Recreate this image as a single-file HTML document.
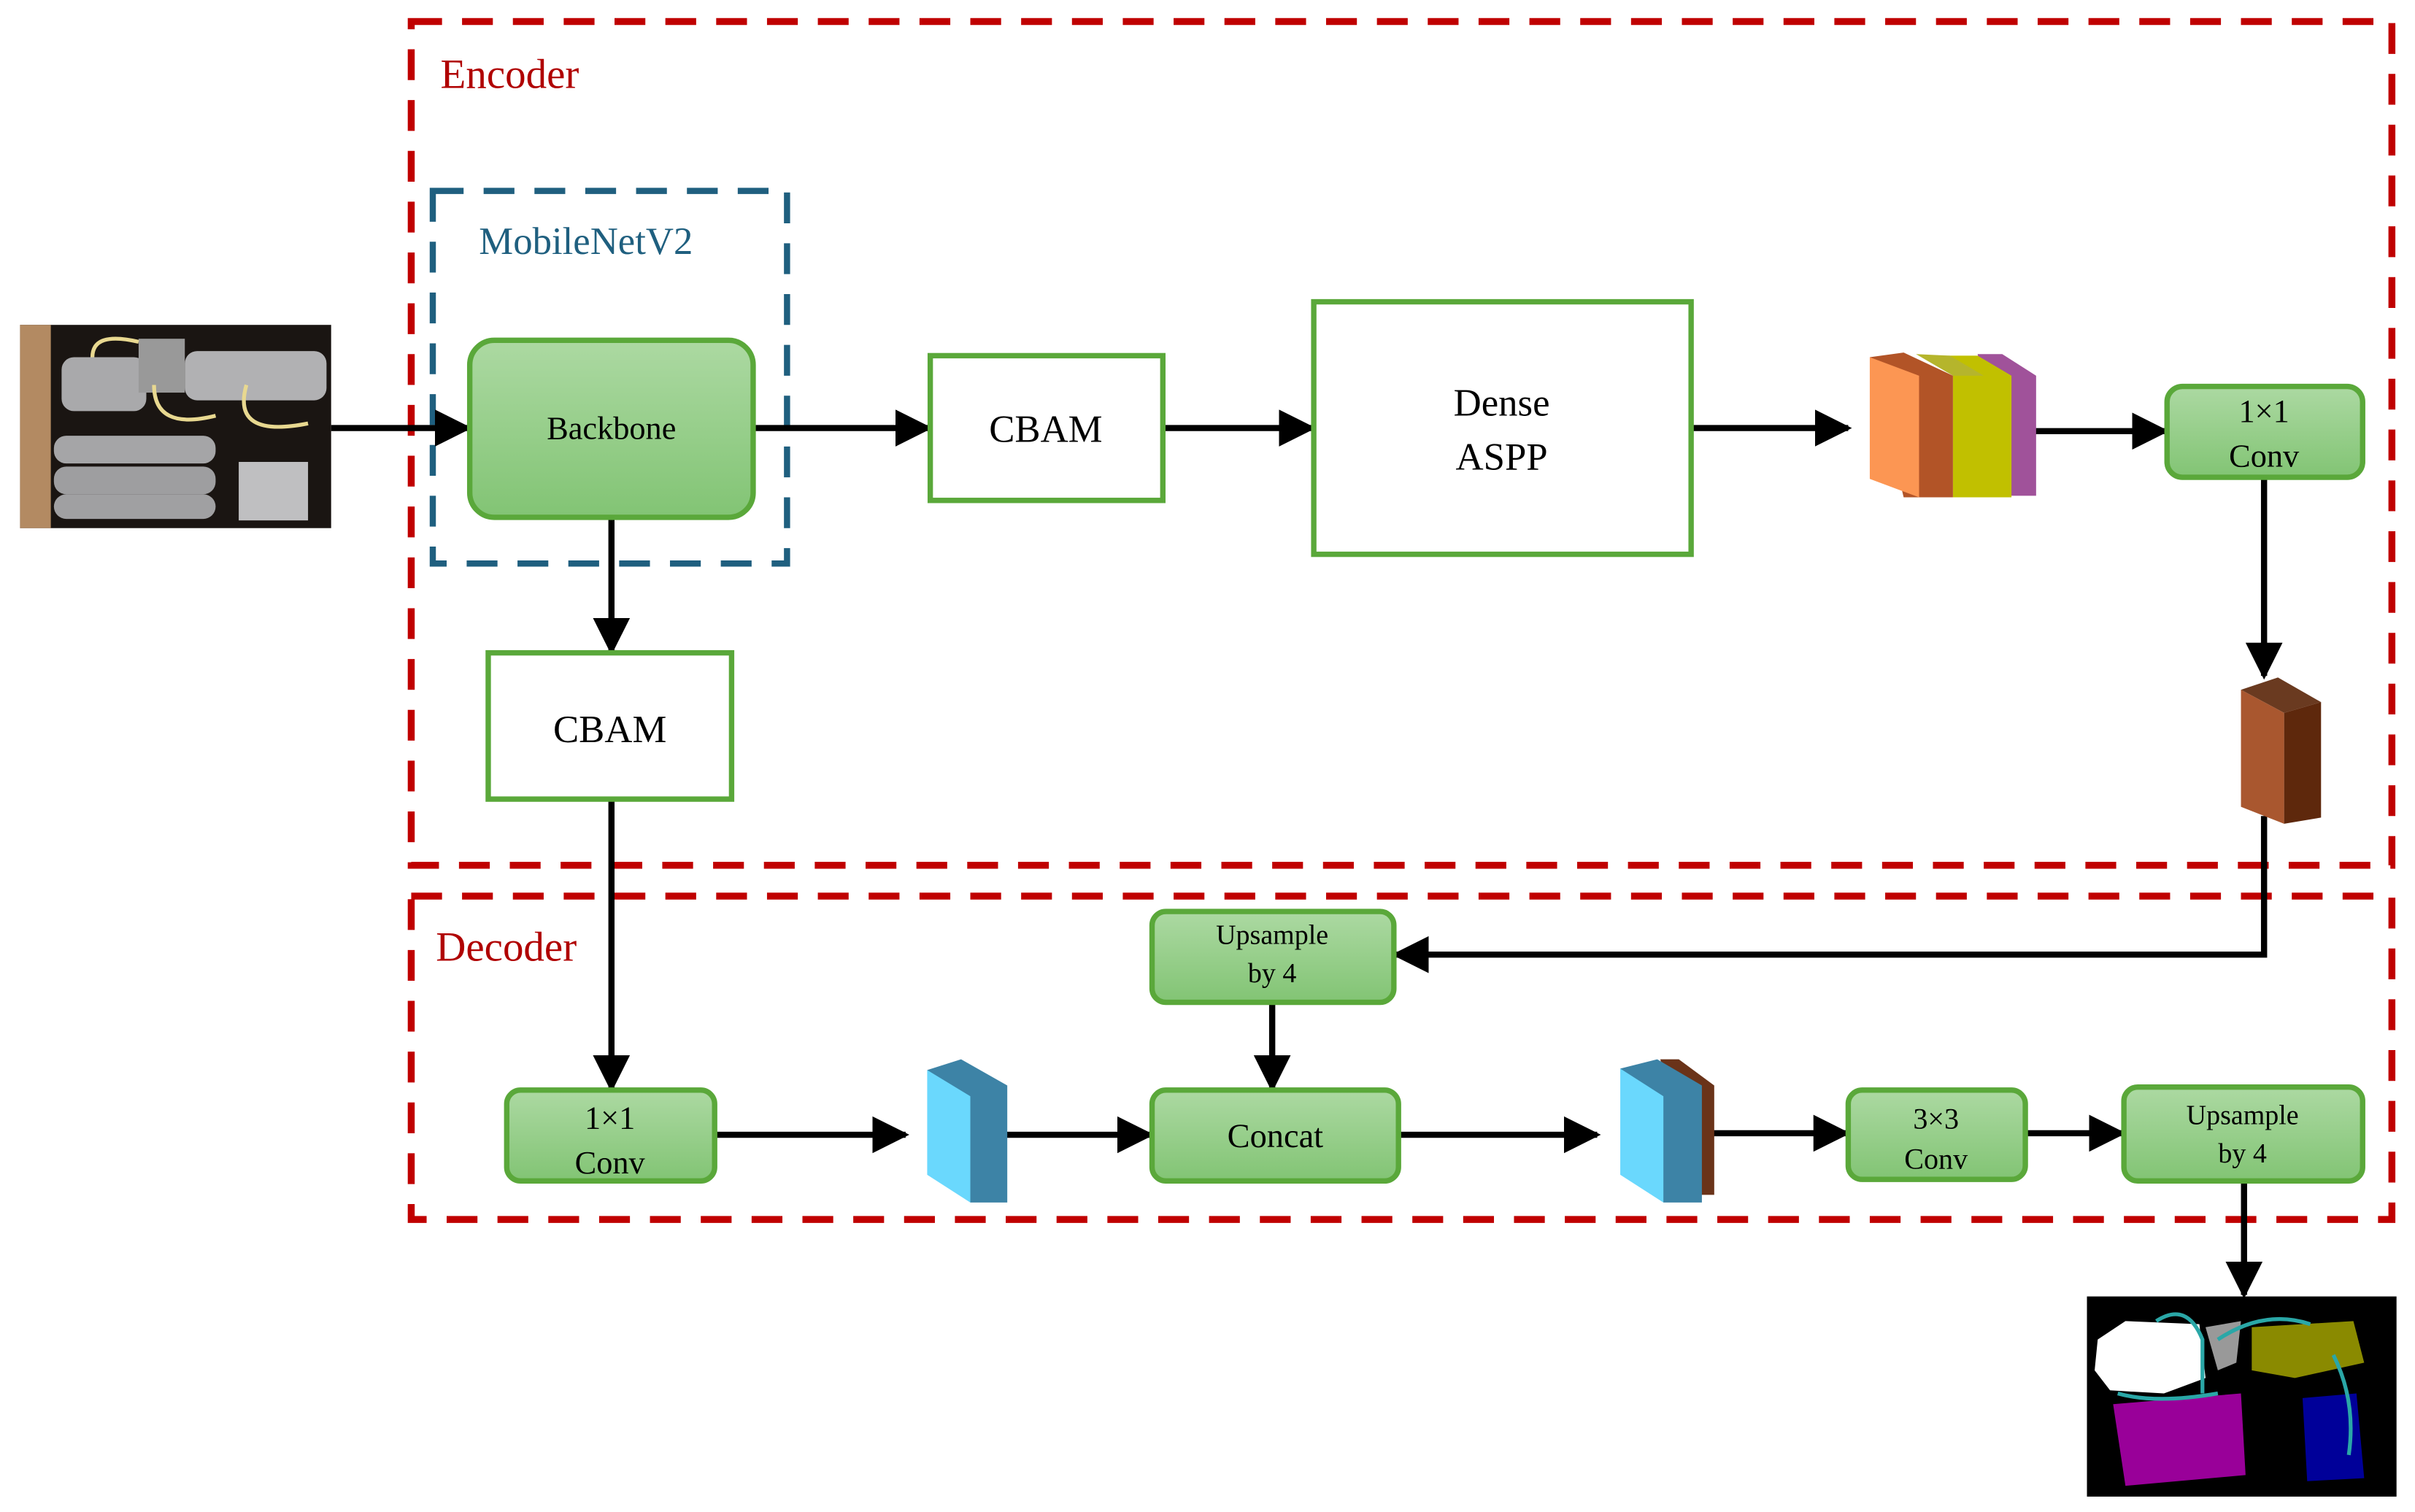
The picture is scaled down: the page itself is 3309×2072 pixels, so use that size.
<!DOCTYPE html>
<html><head><meta charset="utf-8"><style>
html,body{margin:0;padding:0;background:#fff;}
svg{display:block;}
text{font-family:"Liberation Serif",serif;}
</style></head><body>
<svg width="3309" height="2072" viewBox="0 0 1568 982" preserveAspectRatio="none" xmlns="http://www.w3.org/2000/svg">
<defs>
<linearGradient id="g" x1="0" y1="0" x2="0" y2="1"><stop offset="0" stop-color="#acd9a2"/><stop offset="1" stop-color="#82c474"/></linearGradient>
<marker id="a" viewBox="0 0 10 10" refX="9" refY="5" markerWidth="6" markerHeight="6" markerUnits="strokeWidth" orient="auto"><path d="M0,0L10,5L0,10z" fill="#000"/></marker>
</defs>
<rect x="267" y="14" width="1286" height="548" fill="none" stroke="#c00000" stroke-width="4.5" stroke-dasharray="20,13"/>
<rect x="267" y="582" width="1286" height="210" fill="none" stroke="#c00000" stroke-width="4.5" stroke-dasharray="20,13"/>
<text x="286" y="57" font-size="27" fill="#b00000">Encoder</text>
<text x="283" y="624" font-size="27" fill="#b00000">Decoder</text>
<rect x="281" y="124" width="230" height="242" fill="none" stroke="#1f5f7f" stroke-width="4" stroke-dasharray="20,13"/>
<text x="311" y="165" font-size="25" fill="#1f5f7f">MobileNetV2</text>
<rect x="13" y="211" width="202" height="132" fill="#1a1512"/>
<rect x="13" y="211" width="20" height="132" fill="#b38a62"/>
<rect x="40" y="232" width="55" height="35" rx="8" fill="#a9a9ab"/>
<rect x="120" y="228" width="92" height="32" rx="8" fill="#b1b1b3"/>
<rect x="35" y="283" width="105" height="18" rx="8" fill="#a5a5a7"/>
<rect x="35" y="303" width="105" height="18" rx="8" fill="#9e9ea0"/>
<rect x="35" y="321" width="105" height="16" rx="8" fill="#a0a0a2"/>
<rect x="155" y="300" width="45" height="38" fill="#bfbfc1"/>
<rect x="90" y="220" width="30" height="35" fill="#999"/>
<path d="M60,232 Q60,215 90,222 M100,250 Q100,280 140,270 M160,250 Q150,285 200,275" stroke="#e8d890" stroke-width="2.5" fill="none"/>
<g stroke="#000" stroke-width="4" fill="none">
<line x1="215" y1="278" x2="304" y2="278" marker-end="url(#a)"/>
<line x1="489" y1="278" x2="603" y2="278" marker-end="url(#a)"/>
<line x1="755" y1="278" x2="852" y2="278" marker-end="url(#a)"/>
<line x1="1098" y1="278" x2="1200" y2="278" marker-end="url(#a)"/>
<line x1="1312" y1="280" x2="1406" y2="280" marker-end="url(#a)"/>
<line x1="1470" y1="310" x2="1470" y2="439" marker-end="url(#a)"/>
<polyline points="1470,530 1470,620 906,620" marker-end="url(#a)"/>
<line x1="397" y1="336" x2="397" y2="423" marker-end="url(#a)"/>
<line x1="397" y1="519" x2="397" y2="707" marker-end="url(#a)"/>
<line x1="464" y1="737" x2="588" y2="737" marker-end="url(#a)"/>
<line x1="650" y1="737" x2="747" y2="737" marker-end="url(#a)"/>
<line x1="826" y1="651" x2="826" y2="707" marker-end="url(#a)"/>
<line x1="908" y1="737" x2="1037" y2="737" marker-end="url(#a)"/>
<line x1="1105" y1="736" x2="1199" y2="736" marker-end="url(#a)"/>
<line x1="1315" y1="736" x2="1378" y2="736" marker-end="url(#a)"/>
<line x1="1457" y1="767" x2="1457" y2="841" marker-end="url(#a)"/>
</g>
<g stroke="#5aa83a" stroke-width="3.5">
<rect x="305" y="221" width="184" height="115" rx="16" fill="url(#g)"/>
<rect x="604" y="231" width="151" height="94" fill="#fff"/>
<rect x="853" y="196" width="245" height="164" fill="#fff"/>
<rect x="1407" y="251" width="127" height="59" rx="10" fill="url(#g)"/>
<rect x="317" y="424" width="158" height="95" fill="#fff"/>
<rect x="748" y="592" width="157" height="59" rx="9" fill="url(#g)"/>
<rect x="329" y="708" width="135" height="59" rx="9" fill="url(#g)"/>
<rect x="748" y="708" width="160" height="59" rx="9" fill="url(#g)"/>
<rect x="1200" y="708" width="115" height="58" rx="9" fill="url(#g)"/>
<rect x="1379" y="706" width="155" height="61" rx="9" fill="url(#g)"/>
</g>
<g text-anchor="middle" fill="#000">
<text x="397" y="285" font-size="21">Backbone</text>
<text x="679" y="287" font-size="25">CBAM</text>
<text x="975" y="270" font-size="25">Dense</text>
<text x="975" y="305" font-size="25">ASPP</text>
<text x="1470" y="274" font-size="21">1×1</text>
<text x="1470" y="303" font-size="21">Conv</text>
<text x="396" y="482" font-size="25">CBAM</text>
<text x="826" y="613" font-size="18">Upsample</text>
<text x="826" y="638" font-size="18">by 4</text>
<text x="396" y="733" font-size="21">1×1</text>
<text x="396" y="762" font-size="21">Conv</text>
<text x="828" y="745" font-size="22">Concat</text>
<text x="1257" y="733" font-size="19">3×3</text>
<text x="1257" y="759" font-size="19">Conv</text>
<text x="1456" y="730" font-size="18">Upsample</text>
<text x="1456" y="755" font-size="18">by 4</text>
</g>
<polygon points="1284,230 1300,230 1322,244 1322,322 1306,322" fill="#a0529a"/>
<polygon points="1262,231 1284,231 1306,244 1306,323 1268,323 1268,244" fill="#c1c000"/>
<polygon points="1244,230 1266,231 1288,244 1268,244" fill="#b5b52c"/>
<polygon points="1214,232 1236,229 1268,244 1268,323 1236,323" fill="#b25427"/>
<polygon points="1214,232 1246,244 1246,323 1214,311" fill="#fc9653"/>
<polygon points="1455,448 1479,440 1507,456 1483,463" fill="#6a3a20"/>
<polygon points="1483,463 1507,456 1507,531 1483,535" fill="#5e280c"/>
<polygon points="1455,448 1483,463 1483,535 1455,524" fill="#a9572f"/>
<polygon points="602,695 624,688 654,705 654,781 630,781" fill="#3d83a6"/>
<polygon points="602,695 630,712 630,781 602,763" fill="#6ad8fd"/>
<polygon points="1078,688 1090,688 1113,705 1113,776 1100,776" fill="#6a3319"/>
<polygon points="1052,694 1076,688 1105,705 1105,781 1080,781" fill="#3d83a6"/>
<polygon points="1052,694 1080,712 1080,781 1052,763" fill="#6ad8fd"/>
<rect x="1355" y="842" width="201" height="130" fill="#000"/>
<path d="M1362,870 L1380,858 L1428,860 L1432,895 L1405,905 L1370,903 L1360,890z" fill="#fff"/>
<path d="M1432,862 L1455,858 L1452,885 L1440,890z" fill="#999"/>
<path d="M1462,862 L1528,858 L1535,885 L1490,895 L1462,890z" fill="#8a8a00"/>
<path d="M1372,912 L1455,905 L1458,958 L1380,965z" fill="#990099"/>
<path d="M1495,908 L1530,905 L1535,960 L1498,962z" fill="#000099"/>
<path d="M1400,858 Q1420,845 1430,870 L1430,905 M1440,870 Q1470,850 1500,860 M1515,880 Q1530,910 1525,945 M1375,905 Q1400,912 1440,905" stroke="#2aa7a7" stroke-width="2.5" fill="none"/>
</svg>
</body></html>
